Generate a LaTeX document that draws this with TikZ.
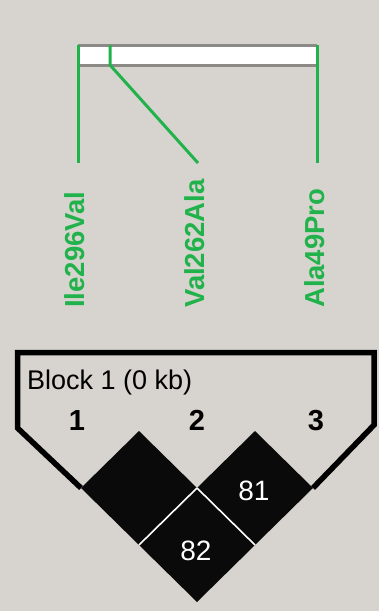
\documentclass[tikz,border=0pt]{standalone}
\usepackage{fontspec}
\setmainfont{Liberation Sans}
\definecolor{panel}{HTML}{D7D4CF}
\definecolor{snpgreen}{HTML}{22B24C}
\definecolor{bargray}{HTML}{8C8A87}
\definecolor{ldblack}{HTML}{0A0A0A}

\tikzset{
  snpline/.style={draw=snpgreen, line width=3pt},
  snplabel/.style={rotate=90, anchor=west, inner sep=0pt, text=snpgreen,
    font=\fontsize{27.5}{27.5}\selectfont\bfseries},
  blockline/.style={draw=black, line width=5.5pt, miter limit=20},
  sepline/.style={draw=white, line width=1.6pt},
  marker/.style={anchor=base, inner sep=0pt, font=\fontsize{29}{29}\selectfont\bfseries},
  cellvalue/.style={inner sep=0pt, text=white, font=\fontsize{28}{28}\selectfont},
}

\begin{document}
\begin{tikzpicture}[x=1pt, y=-1pt]
  % background panel
  \fill[panel] (0,0) rectangle (379,611);
  \useasboundingbox (0,0) rectangle (379,611);

  % chromosome bar
  \fill[white] (78,45) rectangle (317,65);
  \draw[bargray, line width=3pt] (78,45) -- (317,45) (78,65) -- (317,65);

  % marker positions on the bar and the ends of their leader lines
  \coordinate (b1) at (78,45);
  \coordinate (b2top) at (110,45);
  \coordinate (b2) at (110,65);
  \coordinate (b3) at (317,45);
  \coordinate (e1) at (78,163);
  \coordinate (e2) at (198,163);
  \coordinate (e3) at (317,163);

  \draw[snpline] (b1) -- (e1);
  \draw[snpline] (b2top) -- (b2) -- (e2);
  \draw[snpline] (b3) -- (e3);

  % marker names
  \node[snplabel] (n1) at (75,308) {Ile296Val};
  \node[snplabel] (n2) at (195,308) {Val262Ala};
  \node[snplabel] (n3) at (315,308) {Ala49Pro};

  % haplotype block outline
  \coordinate (c1) at (81,488);
  \coordinate (c2) at (313,488);
  \draw[blockline] (c1) -- (17.5,428) -- (17.5,352.5) -- (374,352.5) -- (374,425) -- (c2);

  % LD cells
  \fill[ldblack] (139,431) -- (197,488) -- (139,545) -- (81,488) -- cycle;
  \fill[ldblack] (255,431) -- (313,488) -- (255,545) -- (197,488) -- cycle;
  \fill[ldblack] (197,488) -- (255,545) -- (197,602) -- (139,545) -- cycle;
  \coordinate (j) at (197,488);
  \coordinate (jl) at (139,545);
  \coordinate (jr) at (255,545);
  \draw[sepline] (j) -- (jl);
  \draw[sepline] (j) -- (jr);

  % block title and marker numbers
  \node[anchor=base west, inner sep=0pt, font=\fontsize{27}{27}\selectfont] (title) at (27,389) {Block 1 (0 kb)};
  \node[marker] (m1) at (77,430) {1};
  \node[marker] (m2) at (197,430) {2};
  \node[marker] (m3) at (316,430) {3};

  % cell values
  \node[cellvalue] (v81) at (254,491) {81};
  \node[cellvalue] (v82) at (196,551) {82};
\end{tikzpicture}
\end{document}
